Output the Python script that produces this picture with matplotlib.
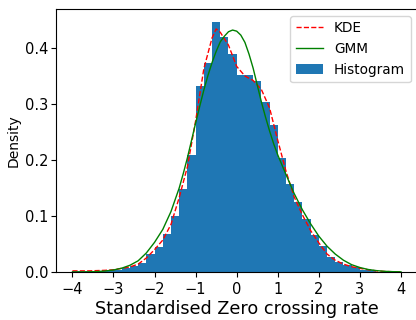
import numpy as np
import matplotlib
matplotlib.use("Agg")
import matplotlib.pyplot as plt

# Histogram: bin edges and density per bin
bin_edges = np.round(np.arange(-4.0, 3.41, 0.2), 2)
hist_density = [
    0.001, 0.001, 0.002, 0.002, 0.003, 0.004, 0.0065, 0.0107, 0.0167, 0.032,
    0.045, 0.068, 0.100, 0.149, 0.209, 0.332, 0.374, 0.446, 0.420, 0.389,
    0.352, 0.352, 0.341, 0.304, 0.2625, 0.203, 0.158, 0.125, 0.094, 0.0667,
    0.0464, 0.026, 0.0179, 0.012, 0.0083, 0.004, 0.003,
]

# Kernel density estimate
kde_x = [-4.0, -3.8, -3.6, -3.4, -3.2, -3.0, -2.8, -2.6, -2.4, -2.2, -2.0,
         -1.8, -1.6, -1.4, -1.2, -1.0, -0.8, -0.6, -0.5, -0.4, -0.2, 0.0,
         0.2, 0.4, 0.6, 0.8, 1.0, 1.2, 1.4, 1.6, 1.8, 2.0, 2.2, 2.4, 2.6,
         2.8, 3.0, 3.2, 3.4, 3.6, 3.8, 4.0]
kde_y = [0.002, 0.002, 0.002, 0.0025, 0.003, 0.004, 0.0065, 0.009, 0.014,
         0.025, 0.040, 0.057, 0.085, 0.133, 0.188, 0.270, 0.363, 0.418, 0.434,
         0.428, 0.405, 0.367, 0.350, 0.342, 0.326, 0.293, 0.235, 0.180, 0.134,
         0.102, 0.074, 0.052, 0.032, 0.021, 0.014, 0.0095, 0.0065, 0.004,
         0.002, 0.001, 0.0005, 0.0003]

# Gaussian mixture model density
gmm_x = [-4.0, -3.8, -3.6, -3.4, -3.2, -3.0, -2.8, -2.6, -2.4, -2.2, -2.0,
         -1.8, -1.6, -1.4, -1.3, -1.2, -1.1, -1.0, -0.9, -0.8, -0.7, -0.6,
         -0.5, -0.4, -0.3, -0.2, -0.1, 0.0, 0.1, 0.2, 0.3, 0.4, 0.5, 0.6,
         0.7, 0.8, 0.9, 1.0, 1.2, 1.4, 1.6, 1.8, 2.0, 2.2, 2.4, 2.6, 2.8,
         3.0, 3.2, 3.4, 3.6, 3.8, 4.0]
gmm_y = [0.0, 0.0001, 0.0003, 0.0008, 0.0018, 0.0036, 0.0068, 0.012, 0.020,
         0.034, 0.053, 0.076, 0.108, 0.150, 0.176, 0.204, 0.235, 0.266, 0.296,
         0.325, 0.351, 0.374, 0.394, 0.411, 0.421, 0.429, 0.432, 0.430, 0.423,
         0.410, 0.389, 0.364, 0.334, 0.304, 0.277, 0.252, 0.229, 0.209, 0.174,
         0.140, 0.111, 0.086, 0.064, 0.046, 0.032, 0.021, 0.013, 0.008,
         0.0045, 0.0025, 0.0012, 0.0006, 0.0003]

x_ticks = [-4, -3, -2, -1, 0, 1, 2, 3, 4]
y_ticks = [0.0, 0.1, 0.2, 0.3, 0.4]

fig = plt.figure(figsize=(4.16, 3.2), dpi=100)
ax = fig.add_axes([56 / 416, 48 / 320, 361.4 / 416, 263 / 320])

centers = (bin_edges[:-1] + bin_edges[1:]) / 2
ax.plot(kde_x, kde_y, "r--", linewidth=1.0, label="KDE", zorder=3)
ax.plot(gmm_x, gmm_y, color="green", linewidth=1.0, label="GMM", zorder=3)
ax.hist(centers, bins=bin_edges, weights=hist_density, color="#1f77b4",
        label="Histogram", zorder=2)

ax.set_xlim(-4.4, 4.4)
ax.set_ylim(0, 0.4696)
ax.set_xticks(x_ticks)
ax.set_yticks(y_ticks)
ax.tick_params(labelsize=10.5)
ax.tick_params(axis="y", pad=2)
ax.set_xlabel("Standardised Zero crossing rate", fontsize=12.7, labelpad=2)
ax.set_ylabel("Density", fontsize=10, labelpad=3)
ax.legend(loc="upper right", fontsize=9.8)

fig.savefig("out.png", dpi=100)
